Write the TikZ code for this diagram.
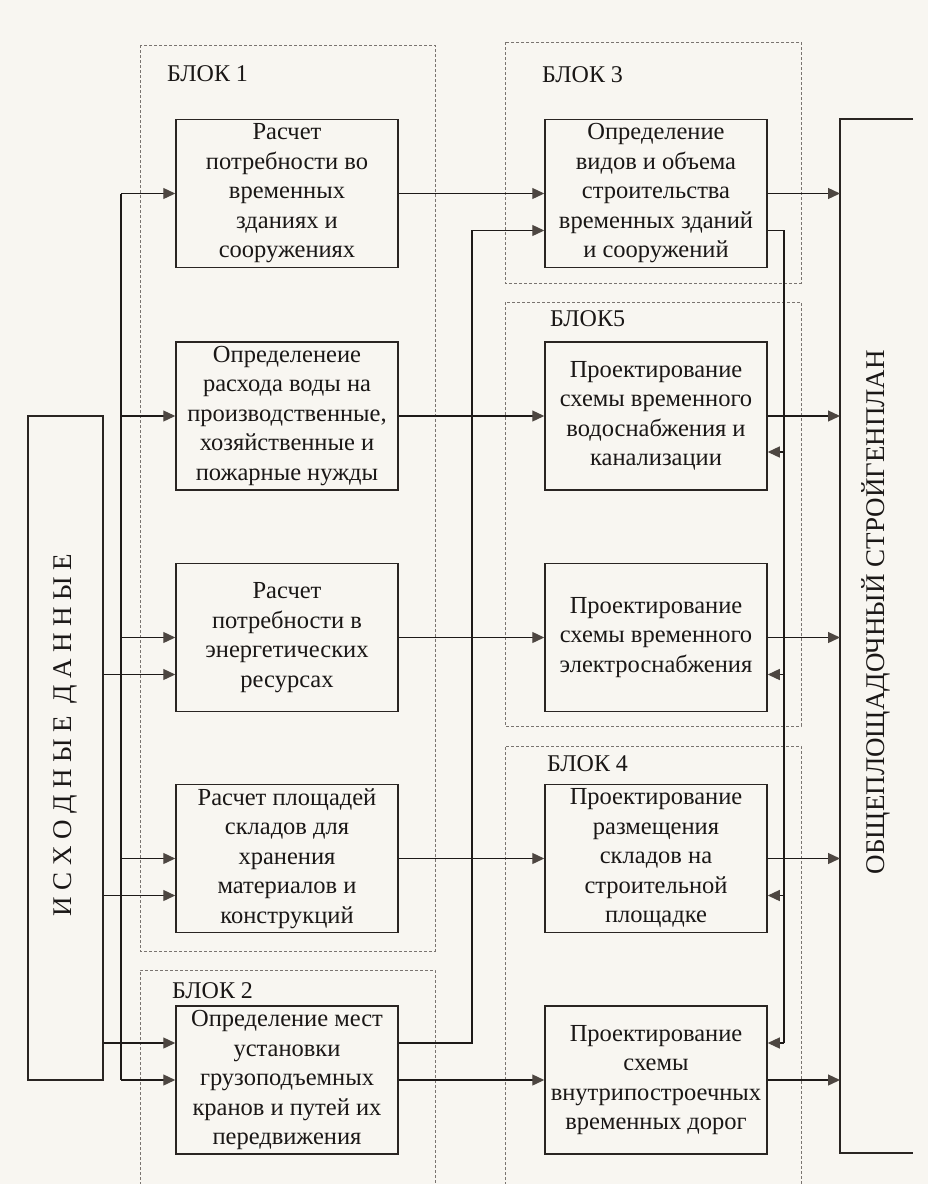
\documentclass[tikz,border=0pt]{standalone}
\usepackage{fontspec}
\setmainfont{Liberation Serif}
\usetikzlibrary{arrows.meta,calc}
\definecolor{paper}{HTML}{F8F6F1}
\definecolor{boxcol}{HTML}{2A2522}
\definecolor{linecol}{HTML}{1E1A18}
\definecolor{arrcol}{HTML}{4D4641}
\definecolor{dashcol}{HTML}{7A7470}
\definecolor{txtcol}{HTML}{1A1716}
\newcommand\lsp{\kern6.5pt}
\begin{document}
\begin{tikzpicture}[x=1pt,y=-1pt,
  box/.style={draw=boxcol, line width=1.5pt, minimum width=222pt, minimum height=148pt,
    align=center, inner sep=0pt, text=txtcol, font=\fontsize{24.5}{29.5}\selectfont},
  conn/.style={line width=1.3pt, draw=linecol},
  arr/.style={conn, -{Triangle[length=12pt,width=11pt,color=arrcol]}},
  blk/.style={draw=dashcol, line width=0.8pt, dash pattern=on 3pt off 2pt},
  blklabel/.style={anchor=west, inner sep=0pt, text=txtcol, font=\fontsize{24}{28}\selectfont},
  vtext/.style={rotate=90, inner sep=0pt, text=txtcol, font=\fontsize{27}{30}\selectfont}
]
\fill[paper] (0,0) rectangle (928,1184);
\useasboundingbox (0,0) rectangle (928,1184);

% dashed blocks
\draw[blk] (140,45) rectangle (435,951);
\draw[blk] (140,1190) -- (140,970) -- (435,970) -- (435,1190);
\draw[blk] (505,42) rectangle (801,283);
\draw[blk] (505,302) rectangle (801,726);
\draw[blk] (505,1190) -- (505,746) -- (801,746) -- (801,1190);
\node[blklabel] (lb1) at (167,74) {БЛОК 1};
\node[blklabel] (lb2) at (172,991) {БЛОК 2};
\node[blklabel] (lb3) at (542,75) {БЛОК 3};
\node[blklabel] (lb5) at (550,319) {БЛОК5};
\node[blklabel] (lb4) at (547,764) {БЛОК 4};

% left column
\node[box] (b1) at (287,193.5) {Расчет\\потребности во\\временных\\зданиях и\\сооружениях};
\node[box] (b2) at (287,416) {Определенеие\\расхода воды на\\производственные,\\хозяйственные и\\пожарные нужды};
\node[box] (b3) at (287,637.5) {Расчет\\потребности в\\энергетических\\ресурсах};
\node[box] (b4) at (287,858.5) {Расчет площадей\\складов для\\хранения\\материалов и\\конструкций};
\node[box] (b5) at (287,1080) {Определение мест\\установки\\грузоподъемных\\кранов и путей их\\передвижения};

% right column
\node[box] (r1) at (656,193.5) {Определение\\видов и объема\\строительства\\временных зданий\\и сооружений};
\node[box] (r2) at (656,416) {Проектирование\\схемы временного\\водоснабжения и\\канализации};
\node[box] (r3) at (656,637.5) {Проектирование\\схемы временного\\электроснабжения};
\node[box] (r4) at (656,858.5) {Проектирование\\размещения\\складов на\\строительной\\площадке};
\node[box] (r5) at (656,1080) {Проектирование\\схемы\\внутрипостроечных\\временных дорог};

% source data box
\node[draw=boxcol, line width=1.5pt, minimum width=75pt, minimum height=664pt, inner sep=0pt] (id) at (65.5,748) {};
\node[vtext] (idt) at (65,735) {И\lsp С\lsp Х\lsp О\lsp Д\lsp Н\lsp Ы\lsp Е\lsp{} Д\lsp А\lsp Н\lsp Н\lsp Ы\lsp Е};

% general plan box (open at right, as in the scan)
\coordinate (pl1) at (840,119);
\coordinate (pl2) at (840,1153);
\draw[draw=boxcol, line width=1.5pt] (913,119) -- (pl1) -- (pl2) -- (913,1153);
\node[vtext] (plt) at (876,612) {ОБЩЕПЛОЩАДОЧНЫЙ СТРОЙГЕНПЛАН};

% helper coordinates
\coordinate (bus) at (121,0);
\coordinate (lx) at (472,0);
\coordinate (rx) at (784,0);
\coordinate (b3s) at ([yshift=-37pt]b3.west);
\coordinate (b4s) at ([yshift=-37pt]b4.west);
\coordinate (b5s) at ([yshift=37pt]b5.west);
\coordinate (b5o) at ([yshift=37pt]b5.east);
\coordinate (r1i) at ([yshift=-37pt]r1.west);
\coordinate (r1o) at ([yshift=-37pt]r1.east);
\coordinate (r2f) at ([yshift=-36pt]r2.east);
\coordinate (r3f) at ([yshift=-37pt]r3.east);
\coordinate (r4f) at ([yshift=-37pt]r4.east);
\coordinate (r5f) at ([yshift=37pt]r5.east);

% bus from the left
\draw[conn] (bus |- b1.west) -- (bus |- b5.west);
\draw[arr] (bus |- b1.west) -- (b1.west);
\draw[arr] (bus |- b2.west) -- (b2.west);
\draw[arr] (bus |- b3.west) -- (b3.west);
\draw[arr] (bus |- b4.west) -- (b4.west);
\draw[arr] (bus |- b5.west) -- (b5.west);

% from source data box
\draw[arr] (id.east |- b3s) -- (b3s);
\draw[arr] (id.east |- b4s) -- (b4s);
\draw[arr] (id.east |- b5s) -- (b5s);

% left column to right column
\draw[arr] (b1.east) -- (r1.west);
\draw[arr] (b2.east) -- (r2.west);
\draw[arr] (b3.east) -- (r3.west);
\draw[arr] (b4.east) -- (r4.west);
\draw[arr] (b5.east) -- (r5.west);

% crane box up to block 3
\draw[arr] (b5o) -- (lx |- b5o) -- (lx |- r1i) -- (r1i);

% block 3 feedback to the others
\draw[conn] (r1o) -- (rx |- r1o) -- (rx |- r5f);
\draw[arr] (rx |- r2f) -- (r2f);
\draw[arr] (rx |- r3f) -- (r3f);
\draw[arr] (rx |- r4f) -- (r4f);
\draw[arr] (rx |- r5f) -- (r5f);

% right column to general plan
\draw[arr] (r1.east) -- (r1.east -| pl1);
\draw[arr] (r2.east) -- (r2.east -| pl1);
\draw[arr] (r3.east) -- (r3.east -| pl1);
\draw[arr] (r4.east) -- (r4.east -| pl1);
\draw[arr] (r5.east) -- (r5.east -| pl1);
\end{tikzpicture}
\end{document}
